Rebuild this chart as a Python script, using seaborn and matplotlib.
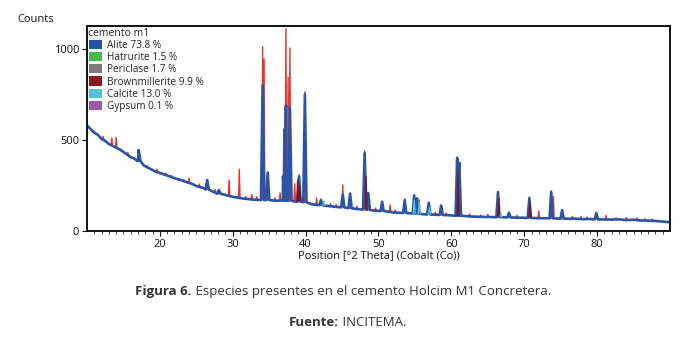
import numpy as np
import pandas as pd
import matplotlib
matplotlib.use("Agg")
import matplotlib.pyplot as plt
from matplotlib.patches import Patch
import seaborn as sns

# ---------------- data ----------------
bg_pos = [10, 10.5, 11, 11.5, 12, 12.5, 13, 14.5, 15, 15.5, 16, 16.5, 17, 17.8, 18.5, 19, 19.5, 20,
          21, 22, 23, 24.5, 25, 26, 27, 28.8, 30, 31.5, 32, 33, 35.5, 36, 38.8, 40.5, 41, 42.5, 43,
          44, 44.5, 46.8, 47, 49, 50, 52, 53, 56, 57.5, 59.5, 62, 63, 65, 68.5, 69.5, 71.5, 72.5,
          76.5, 77, 78, 79, 82, 83, 84, 85, 86, 87, 88, 89, 90]
bg_counts = [580, 560, 540, 528, 505, 495, 478, 448, 434, 420, 405, 398, 385, 360, 345, 335, 325, 319,
             305, 290, 278, 258, 247, 236, 222, 200, 188, 178, 176, 172, 168, 166, 160, 152, 146, 140, 138,
             133, 131, 122, 121, 114, 110, 102, 100, 93, 90, 87, 82, 79, 77, 74, 73, 71, 70,
             67, 68, 65, 66, 63, 64, 60, 62, 58, 57, 55, 52, 48]

# observed pattern (red): peak position, top and local base
obs_pk_pos = [11.0, 12.2, 13.4, 14.0, 15.6, 17.1, 18.2, 19.6, 20.8, 21.6, 22.5, 23.3, 24.0, 25.4,
              26.5, 27.6, 28.1, 29.5, 30.9, 31.8, 32.6, 33.3, 34.1, 34.3, 34.8, 35.8,
              36.5, 37.0, 37.3, 37.6, 37.85, 38.5, 39.1, 39.9, 41.5, 42.1, 43.4, 44.2, 45.1, 46.1,
              47.0, 48.1, 48.6, 49.6, 50.5, 51.6, 52.3, 53.6, 54.9, 55.6, 56.9, 57.8, 58.6, 59.3,
              60.8, 61.1, 62.5, 64.0, 65.0, 66.4, 67.9, 69.0, 70.7, 72.0, 73.7, 74.0, 75.2, 76.6,
              77.8, 78.6, 79.9, 81.2, 82.6, 84.0, 85.5, 86.6, 87.6]
obs_pk_top = [548, 520, 511, 515, 432, 400, 360, 340, 318, 305, 282, 280, 291, 258,
              250, 228, 215, 280, 340, 190, 200, 188, 1013, 945, 325, 182,
              210, 500, 1110, 845, 1005, 260, 310, 765, 180, 175, 150, 146, 253, 209,
              136, 440, 209, 126, 165, 143, 115, 176, 192, 170, 154, 104, 143, 100,
              407, 374, 94, 88, 90, 181, 104, 86, 187, 110,
              220, 190, 115, 80, 79, 77, 99, 85, 73, 74, 72, 68, 66]
obs_pk_base = [540, 505, 470, 460, 420, 385, 352, 328, 305, 295, 285, 272, 262, 245,
               228, 212, 205, 192, 180, 177, 172, 171, 170, 170, 170, 168,
               168, 168, 167, 167, 166, 165, 162, 158, 146, 142, 136, 132, 130, 125,
               121, 118, 116, 112, 110, 106, 102, 99, 96, 94, 91, 89, 88, 87,
               84, 84, 81, 78, 77, 76, 75, 74, 72, 71, 70, 70, 68, 67,
               66, 65, 64, 63, 63, 61, 58, 57, 56]

# calculated profile (blue, Alite-dominated)
calc_pk_pos = [17.1, 26.5, 28.1, 34.1, 34.8, 36.9, 37.1, 37.3, 37.85, 39.1, 39.9, 42.1, 45.1, 46.1,
               48.1, 48.6, 50.5, 53.6, 54.9, 55.3, 56.9, 58.6, 60.8, 61.1, 66.4, 67.9, 70.7,
               73.7, 75.2, 79.9]
calc_pk_top = [445, 280, 225, 800, 320, 300, 560, 690, 675, 300, 750, 170, 200, 205,
               428, 209, 160, 170, 195, 180, 155, 140, 401, 374, 214, 100, 180,
               215, 115, 99]
calc_pk_base = [385, 228, 205, 170, 170, 168, 168, 167, 166, 162, 158, 142, 130, 125,
                118, 116, 110, 99, 96, 95, 91, 88, 84, 84, 76, 75, 72,
                70, 68, 64]

# minor phases (dark red = Brownmillerite, cyan = Calcite)
brm_pk_pos = [38.9, 39.2, 48.3, 60.9, 66.5, 70.8]
brm_pk_top = [280, 250, 300, 330, 180, 160]
brm_pk_base = [163, 162, 118, 84, 76, 72]
cal_pk_pos = [42.5, 54.9, 55.6, 57.0, 66.8]
cal_pk_top = [165, 170, 160, 130, 100]
cal_pk_base = [140, 96, 94, 91, 76]

phase_names = ["Alite 73.8 %", "Hatrurite 1.5 %", "Periclase 1.7 %",
               "Brownmillerite 9.9 %", "Calcite 13.0 %", "Gypsum 0.1 %"]
phase_colors = ["#2152a3", "#4cb847", "#7b7b7b", "#8a1a1f", "#4fc6d8", "#9d55ad"]

legend_title = "cemento m1"
x_label = "Position [°2 Theta] (Cobalt (Co))"
y_label = "Counts"
y_ticks = [0, 500, 1000]
x_ticks = [20, 30, 40, 50, 60, 70, 80]


def build(pos, top, base, half, with_bg=True):
    xs, ys = [], []
    if with_bg:
        xs += list(bg_pos)
        ys += list(bg_counts)
    for p, t, b in zip(pos, top, base):
        xs += [p - half, p, p + half]
        ys += [b, t, b]
    df = pd.DataFrame({"x": xs, "y": ys}).sort_values("x", kind="stable")
    return df


obs_df = build(obs_pk_pos, obs_pk_top, obs_pk_base, 0.1)
calc_df = build(calc_pk_pos, calc_pk_top, calc_pk_base, 0.22)
brm_df = build(brm_pk_pos, brm_pk_top, brm_pk_base, 0.12, with_bg=False)
cal_df = build(cal_pk_pos, cal_pk_top, cal_pk_base, 0.14, with_bg=False)

# ---------------- plot ----------------
sns.set_theme(style="ticks")
plt.rcParams["font.family"] = ["Open Sans", "DejaVu Sans"]

fig = plt.figure(figsize=(6.96, 3.45), dpi=100)
ax = fig.add_axes([0.125, 0.3304, 0.8376, 0.5942])

sns.lineplot(data=obs_df, x="x", y="y", ax=ax, color="#e8332e", lw=1.0,
             estimator=None, sort=False)
sns.lineplot(data=calc_df, x="x", y="y", ax=ax, color="#2a55a6", lw=1.9,
             estimator=None, sort=False)
for df, c in [(brm_df, "#7a1420"), (cal_df, "#4fc6d8")]:
    for i in range(0, len(df), 3):
        seg = df.iloc[i:i + 3]
        ax.plot(seg["x"], seg["y"], color=c, lw=0.9)

ax.set_xlim(10, 90)
ax.set_ylim(0, 1126)
ax.set_xticks(x_ticks)
ax.set_xticks(np.arange(11, 90, 1), minor=True)
ax.set_yticks(y_ticks)
ax.tick_params(axis="both", which="major", labelsize=8, length=3.5, width=0.8,
               direction="out", colors="#111111", pad=2)
ax.tick_params(axis="x", which="minor", length=2, width=0.6, direction="out")
ax.set_xlabel(x_label, fontsize=8, labelpad=0, color="#111111")
ax.set_ylabel("")
for s in ax.spines.values():
    s.set_visible(True)
    s.set_linewidth(1.4)
    s.set_color("#111111")

fig.text(17 / 696, 1 - 20 / 345, y_label, fontsize=8, va="center", ha="left", color="#111111")

handles = [Patch(facecolor=c, edgecolor="none") for c in phase_colors]
leg = ax.legend(handles, phase_names, title=legend_title, loc="upper left",
                frameon=False, fontsize=7.2, title_fontsize=7.5,
                handlelength=1.35, handleheight=1.05, handletextpad=0.5,
                labelspacing=0.12, borderaxespad=0.05, borderpad=0.1,
                alignment="left")

# caption (bold lead + normal text), centred
cap_y = 1 - 291 / 345
src_y = 1 - 322 / 345
renderer = fig.canvas.get_renderer()


def two_part(y, bold, normal, cx):
    t1 = fig.text(0, y, bold, fontsize=9.5, fontweight="bold", va="center", color="#333333")
    t2 = fig.text(0, y, normal, fontsize=9.5, va="center", color="#333333")
    w1 = t1.get_window_extent(renderer).width / fig.bbox.width
    w2 = t2.get_window_extent(renderer).width / fig.bbox.width
    x0 = cx - (w1 + w2) / 2
    t1.set_x(x0)
    t2.set_x(x0 + w1)


two_part(cap_y, "Figura 6.", " Especies presentes en el cemento Holcim M1 Concretera.", 343 / 696)
two_part(src_y, "Fuente:", " INCITEMA.", 348 / 696)

fig.savefig("out.png", dpi=100)
